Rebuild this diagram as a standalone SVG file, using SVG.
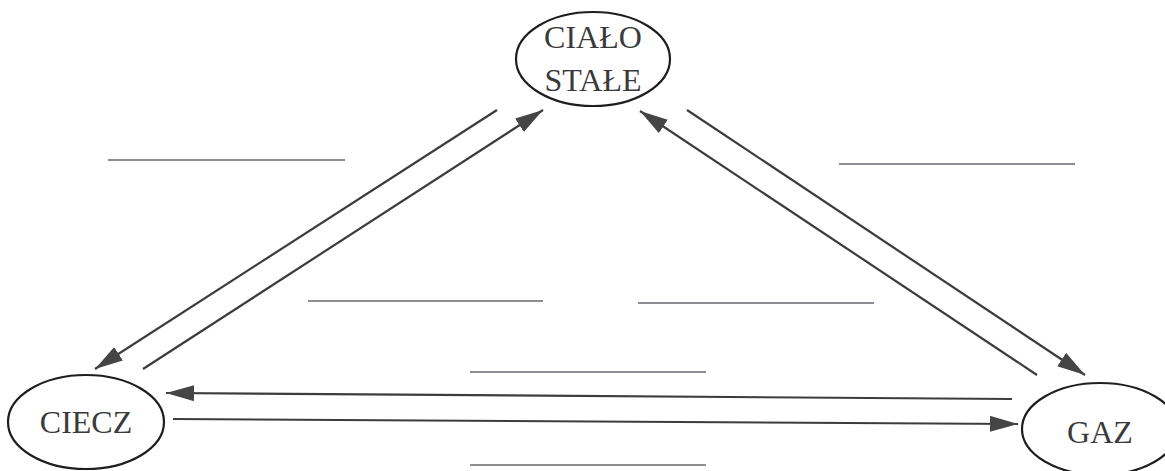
<svg xmlns="http://www.w3.org/2000/svg" width="1165" height="471" viewBox="0 0 1165 471">
<style>
.node ellipse{fill:#fff;stroke:#1e1e1e;stroke-width:2.2}
.node text{font-family:"Liberation Serif","Times New Roman",serif;font-size:32px;fill:#3a3a3a;text-anchor:middle}
.arr line{stroke:#3c3c3c;stroke-width:2.2;marker-end:url(#ah)}
.blank line{stroke:#6a6670;stroke-width:1.6}
</style>
<defs>
<marker id="ah" markerUnits="userSpaceOnUse" markerWidth="30" markerHeight="18" refX="28" refY="8" orient="auto">
<path d="M0,0 L28,8 L0,16 Z" fill="#454545"/>
</marker>
</defs>
<rect width="1165" height="471" fill="#fff"/>
<g id="blanks" class="blank">
<line x1="108" y1="160" x2="345" y2="160"/>
<line x1="839" y1="164" x2="1075" y2="164"/>
<line x1="308" y1="301" x2="543" y2="301"/>
<line x1="638" y1="303" x2="874" y2="303"/>
<line x1="470" y1="372" x2="706" y2="372"/>
<line x1="470" y1="465" x2="706" y2="465"/>
</g>
<g id="connectors" class="arr">
<line x1="497" y1="110" x2="95" y2="369"/>
<line x1="143" y1="369" x2="543" y2="110"/>
<line x1="1037" y1="375" x2="640" y2="111"/>
<line x1="687" y1="110" x2="1085" y2="375"/>
<line x1="1012" y1="399" x2="166" y2="393"/>
<line x1="173" y1="419" x2="1018" y2="424"/>
</g>
<g id="cialo-stale" class="node">
<ellipse cx="593" cy="59" rx="77" ry="47"/>
<text x="593" y="48">CIAŁO</text>
<text x="593" y="91">STAŁE</text>
</g>
<g id="ciecz" class="node">
<ellipse cx="86" cy="422" rx="78" ry="47"/>
<text x="86" y="433">CIECZ</text>
</g>
<g id="gaz" class="node">
<ellipse cx="1100" cy="429" rx="78" ry="46"/>
<text x="1100" y="443">GAZ</text>
</g>
</svg>
